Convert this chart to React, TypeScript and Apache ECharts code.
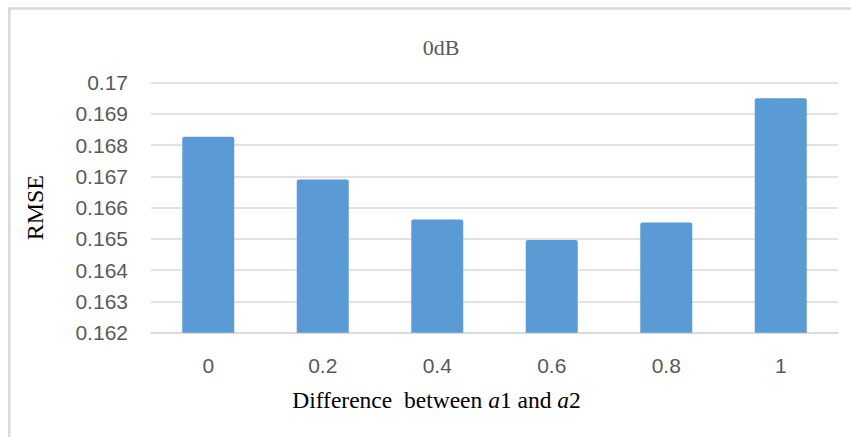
import React, { useEffect, useRef } from "react";
import * as echarts from "echarts";

const categories = ["0", "0.2", "0.4", "0.6", "0.8", "1"];
const rmseValues = [0.16827, 0.1669, 0.16562, 0.16497, 0.16553, 0.1695];
const yMin = 0.162;
const yMax = 0.17;
const yStep = 0.001;

const chartTitle = "0dB";
const yAxisTitle = "RMSE";
// x-axis title pieces; the symbol "a" is set in italic
const xTitleParts: { text: string; italic: boolean }[] = [
  { text: "Difference  between ", italic: false },
  { text: "a", italic: true },
  { text: "1 and ", italic: false },
  { text: "a", italic: true },
  { text: "2", italic: false },
];

const SANS = "'Liberation Sans', Arial, sans-serif";
const SERIF = "'Liberation Serif', 'Times New Roman', serif";
const X_TITLE_SIZE = 23.5;
const X_TITLE_CENTER = 436.5;
const X_TITLE_TOP = 388;

function measure(text: string, italic: boolean): number {
  const c = document.createElement("canvas").getContext("2d");
  if (!c) return text.length * X_TITLE_SIZE * 0.45;
  c.font = `${italic ? "italic " : ""}${X_TITLE_SIZE}px ${SERIF}`;
  return c.measureText(text).width;
}

function xTitleTitles() {
  const widths = xTitleParts.map((p) => measure(p.text, p.italic));
  const total = widths.reduce((s, w) => s + w, 0);
  let x = X_TITLE_CENTER - total / 2;
  return xTitleParts.map((p, k) => {
    const item = {
      text: p.text.trimEnd(),
      left: x,
      top: X_TITLE_TOP,
      padding: 0,
      textStyle: {
        fontFamily: SERIF,
        fontSize: X_TITLE_SIZE,
        fontStyle: p.italic ? "italic" : "normal",
        fontWeight: "normal",
        color: "#000000",
      },
    };
    x += widths[k];
    return item;
  });
}

export default function App() {
  const ref = useRef<HTMLDivElement>(null);

  useEffect(() => {
    document.body.style.margin = "0";
    if (!ref.current) return;
    const chart = echarts.init(ref.current, undefined, { renderer: "svg" });
    chart.setOption({
      animation: false,
      backgroundColor: "#ffffff",
      title: [
        {
          text: chartTitle,
          left: 436,
          top: 31,
          textAlign: "center",
          textStyle: {
            fontFamily: SERIF,
            fontSize: 22,
            fontWeight: "normal",
            color: "#595959",
          },
        },
        ...xTitleTitles(),
      ],
      grid: {
        left: 151,
        right: 13,
        top: 82.7,
        bottom: 104.3,
        containLabel: false,
      },
      xAxis: {
        type: "category",
        data: categories,
        axisLine: { show: true, lineStyle: { color: "#d9d9d9", width: 1.5 } },
        axisTick: { show: false },
        axisLabel: {
          margin: 22,
          fontFamily: SANS,
          fontSize: 21,
          color: "#595959",
        },
      },
      yAxis: {
        type: "value",
        min: yMin,
        max: yMax,
        interval: yStep,
        name: yAxisTitle,
        nameLocation: "middle",
        nameGap: 104,
        nameRotate: 90,
        nameTextStyle: {
          fontFamily: SERIF,
          fontSize: 24,
          color: "#000000",
        },
        axisLine: { show: false },
        axisTick: { show: false },
        axisLabel: {
          margin: 23,
          fontFamily: SANS,
          fontSize: 21,
          color: "#595959",
          formatter: (v: number) => String(Number(v.toFixed(3))),
        },
        splitLine: { lineStyle: { color: "#d9d9d9", width: 1.5 } },
      },
      series: [
        {
          type: "bar",
          data: rmseValues,
          barWidth: 52,
          itemStyle: { color: "#5b9bd5", borderRadius: [2, 2, 0, 0] },
        },
      ],
      graphic: [
        {
          type: "line",
          shape: { x1: 8, y1: 8.5, x2: 851, y2: 8.5 },
          style: { stroke: "#d9d9d9", lineWidth: 2.5 },
          silent: true,
        },
        {
          type: "line",
          shape: { x1: 9.3, y1: 8, x2: 9.3, y2: 437 },
          style: { stroke: "#d9d9d9", lineWidth: 2.5 },
          silent: true,
        },
      ],
    });
    return () => chart.dispose();
  }, []);

  return <div ref={ref} style={{ width: 851, height: 437 }} />;
}
